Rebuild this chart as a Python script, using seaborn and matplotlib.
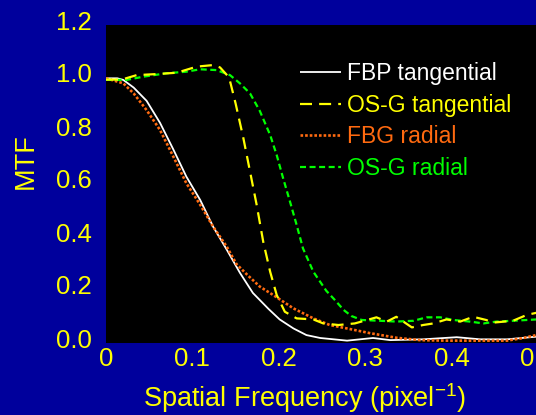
import matplotlib
matplotlib.use("Agg")
import matplotlib.pyplot as plt
import seaborn as sns
import pandas as pd

# ---------------- data ----------------
fbp_tan_x = [0.0, 0.013, 0.020, 0.032, 0.047, 0.0625, 0.078, 0.093, 0.109, 0.124, 0.140,
             0.155, 0.170, 0.188, 0.201, 0.217, 0.232, 0.248, 0.279, 0.309, 0.329, 0.367,
             0.406, 0.433, 0.464, 0.498]
fbp_tan_y = [0.98, 0.98, 0.974, 0.945, 0.895, 0.812, 0.711, 0.609, 0.521, 0.42, 0.332,
             0.246, 0.170, 0.110, 0.070, 0.036, 0.011, 0.0, -0.01, 0.0, -0.008, -0.005,
             0.003, -0.005, -0.005, 0.005]

osg_tan_x = [0.0, 0.018, 0.0355, 0.0587, 0.0818, 0.105, 0.124, 0.132, 0.1425, 0.150, 0.159,
             0.1667, 0.1744, 0.182, 0.190, 0.1976, 0.207, 0.2207, 0.240, 0.2515, 0.269,
             0.288, 0.313, 0.325, 0.336, 0.354, 0.367, 0.379, 0.394, 0.410, 0.425, 0.440,
             0.448, 0.471, 0.487, 0.498]
osg_tan_y = [0.975, 0.975, 0.992, 0.996, 1.001, 1.024, 1.03, 1.021, 0.983, 0.885, 0.754,
             0.628, 0.502, 0.363, 0.250, 0.162, 0.099, 0.074, 0.070, 0.055, 0.049,
             0.055, 0.078, 0.062, 0.080, 0.040, 0.049, 0.055, 0.070, 0.062, 0.080, 0.068,
             0.058, 0.065, 0.087, 0.095]

fbg_rad_x = [0.0, 0.020, 0.032, 0.047, 0.0625, 0.078, 0.093, 0.109, 0.124, 0.1397, 0.151,
             0.163, 0.178, 0.1936, 0.2168, 0.240, 0.259, 0.279, 0.306, 0.336, 0.363,
             0.394, 0.433, 0.464, 0.483, 0.498]
fbg_rad_y = [0.98, 0.961, 0.923, 0.860, 0.785, 0.684, 0.584, 0.503, 0.42, 0.345, 0.279,
             0.240, 0.194, 0.162, 0.112, 0.074, 0.049, 0.036, 0.018, 0.001, -0.008,
             -0.01, -0.01, -0.01, 0.0, 0.011]

osg_rad_x = [0.0, 0.024, 0.043, 0.070, 0.093, 0.109, 0.128, 0.1435, 0.155, 0.1667, 0.178,
             0.190, 0.1976, 0.205, 0.213, 0.2207, 0.228, 0.240, 0.255, 0.265, 0.275,
             0.284, 0.296, 0.317, 0.336, 0.356, 0.371, 0.387, 0.402, 0.421, 0.437, 0.452,
             0.471, 0.498]
osg_rad_y = [0.974, 0.974, 0.986, 0.999, 1.005, 1.014, 1.011, 0.992, 0.961, 0.923, 0.857,
             0.766, 0.690, 0.603, 0.514, 0.426, 0.338, 0.250, 0.178, 0.143, 0.106,
             0.083, 0.068, 0.065, 0.062, 0.065, 0.078, 0.078, 0.068, 0.062, 0.055, 0.062,
             0.065, 0.070]

series_labels = ["FBP tangential", "OS-G tangential", "FBG radial", "OS-G radial"]
x_ticks = [0, 0.1, 0.2, 0.3, 0.4, 0.5]
x_tick_labels = ["0", "0.1", "0.2", "0.3", "0.4", "0.5"]
y_ticks = [0.0, 0.2, 0.4, 0.6, 0.8, 1.0, 1.2]
y_tick_labels = ["0.0", "0.2", "0.4", "0.6", "0.8", "1.0", "1.2"]

# ---------------- style ----------------
BLUE = "#00009C"
YEL = "#FFFF00"
sns.set_theme(style="dark")
plt.rcParams["font.family"] = ["Liberation Sans", "DejaVu Sans"]
plt.rcParams["mathtext.default"] = "regular"

fig = plt.figure(figsize=(5.36, 4.15), dpi=100, facecolor=BLUE)
ax = fig.add_axes([106 / 536, 71.7 / 415, 432 / 536, 323.3 / 415])
ax.set_facecolor(BLUE)
ax.axhspan(-0.02, 1.181, color="black", zorder=0, lw=0)

styles = [
    dict(color="white", lw=1.3, linestyle="-"),
    dict(color=YEL, lw=1.6, linestyle=(0, (5.4, 3.2))),
    dict(color="#FF6A10", lw=1.9, linestyle=(0, (1.0, 0.75))),
    dict(color="#00FF00", lw=1.6, linestyle=(0, (2.7, 1.6))),
]
data = [(fbp_tan_x, fbp_tan_y), (osg_tan_x, osg_tan_y), (fbg_rad_x, fbg_rad_y),
        (osg_rad_x, osg_rad_y)]
order = [0, 2, 3, 1]
handles = {}
for i in order:
    xs, ys = data[i]
    df = pd.DataFrame({"f": xs, "mtf": ys})
    sns.lineplot(data=df, x="f", y="mtf", ax=ax, estimator=None, sort=False,
                 label=series_labels[i], solid_capstyle="butt", dash_capstyle="butt",
                 **styles[i])
    handles[i] = ax.get_lines()[-1]

ax.set_xlim(0, 0.5)
ax.set_ylim(-0.02, 1.2)
ax.set_xticks(x_ticks)
ax.set_xticklabels(x_tick_labels)
ax.set_yticks(y_ticks)
ax.set_yticklabels(y_tick_labels)
ax.tick_params(axis="both", length=0, labelcolor=YEL, labelsize=18.5)
ax.tick_params(axis="y", pad=10.5)
ax.tick_params(axis="x", pad=2.5)
ax.grid(False)
for s in ax.spines.values():
    s.set_visible(False)

ax.set_xlabel("Spatial Frequency (pixel$^{-1}$)", color=YEL, fontsize=19.5)
ax.set_ylabel("MTF", color=YEL, fontsize=19.5)
ax.xaxis.set_label_coords(0.4606, -0.118)
ax.yaxis.set_label_coords(-0.155, 0.564)
ax.xaxis.label.set_va("top")

leg = ax.legend([handles[i] for i in range(4)], series_labels, frameon=False,
                labelcolor="linecolor", fontsize=16.5, loc="upper left",
                bbox_to_anchor=(300 / 536, 1 - 62 / 415), bbox_transform=fig.transFigure,
                borderpad=0, borderaxespad=0, handlelength=1.8, handletextpad=0.25,
                labelspacing=0.38)

fig.savefig("out.png", dpi=100, facecolor=BLUE)
